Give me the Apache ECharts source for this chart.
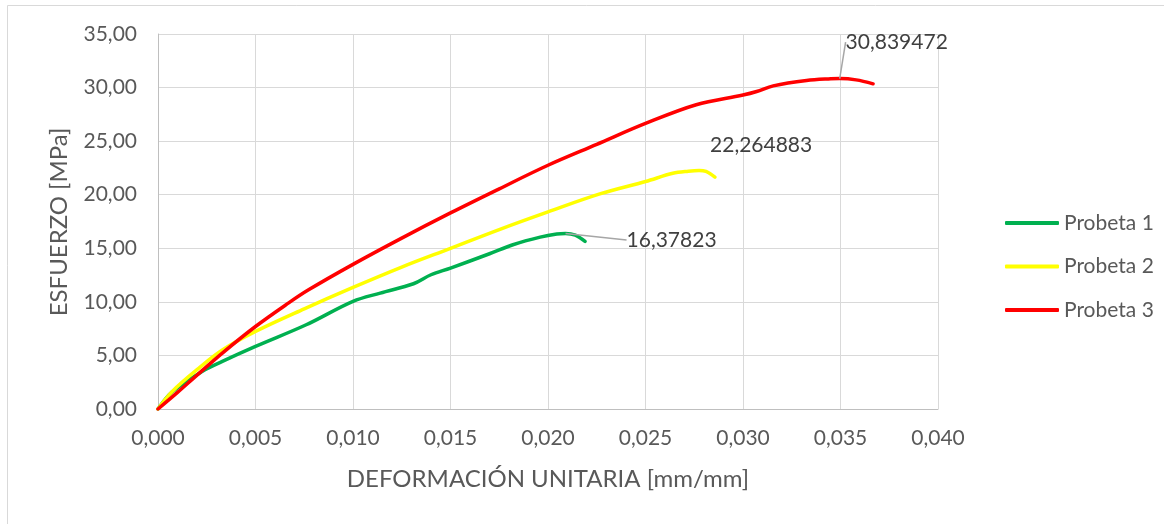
<!DOCTYPE html>
<html>
<head>
<meta charset="utf-8">
<script src="https://cdn.jsdelivr.net/npm/echarts@6/dist/echarts.min.js"></script>
<style>
  html, body { margin: 0; padding: 0; background: #fff; }
  #chart { width: 1164px; height: 524px; }
</style>
</head>
<body>
<div id="chart"></div>
<script>
// ---- Data ----
const seriesNames = ['Probeta 1', 'Probeta 2', 'Probeta 3'];

const p1Strain = [0, 0.00073, 0.00226, 0.0033, 0.0050, 0.0076, 0.0100, 0.0114, 0.0131, 0.0140, 0.0150, 0.0170, 0.0182, 0.0196, 0.02045, 0.0209, 0.0214, 0.0219];
const p1Stress = [0, 1.6, 3.5, 4.44, 5.84, 7.86, 10.05, 10.82, 11.69, 12.53, 13.15, 14.49, 15.33, 16.04, 16.33, 16.37823, 16.22, 15.64];

const p2Strain = [0, 0.00073, 0.0021, 0.0033, 0.0050, 0.0075, 0.0100, 0.0125, 0.0150, 0.0175, 0.0200, 0.0227, 0.0250, 0.0264, 0.0272, 0.02775, 0.0281, 0.02856];
const p2Stress = [0, 1.64, 3.82, 5.5, 7.24, 9.35, 11.35, 13.25, 15.0, 16.75, 18.4, 20.1, 21.23, 22.0, 22.2, 22.264883, 22.17, 21.64];

const p3Strain = [0, 0.0010, 0.0019, 0.0033, 0.0050, 0.0067, 0.0077, 0.0100, 0.0125, 0.0150, 0.0175, 0.0200, 0.0225, 0.0250, 0.0276, 0.0300, 0.0307, 0.03155, 0.03326, 0.0345, 0.03496, 0.0358, 0.03667];
const p3Stress = [0, 1.55, 3.0, 5.22, 7.7, 9.9, 11.1, 13.5, 15.95, 18.3, 20.55, 22.75, 24.7, 26.65, 28.4, 29.3, 29.63, 30.16, 30.66, 30.82, 30.839472, 30.72, 30.35];

const xTicks = { min: 0, max: 0.04, interval: 0.005 };
const yTicks = { min: 0, max: 35, interval: 5 };

const xTitle = 'DEFORMACIÓN UNITARIA [mm/mm]';
const yTitle = 'ESFUERZO [MPa]';

const colors = ['#00B050', '#FFFF00', '#FF0000'];

// ---- Build ----
const FONT = 'Lato';
const comma = (v, d) => v.toFixed(d).replace('.', ',');

function buildData(xs, ys) {
  let peak = 0;
  ys.forEach((v, i) => { if (v > ys[peak]) peak = i; });
  return xs.map((x, i) => i === peak
    ? { value: [x, ys[i]], label: { show: true } }
    : [x, ys[i]]);
}

const labelShift = [
  { dx: 106, dy: 22, line: true },
  { dx: 62, dy: -10, line: false },
  { dx: 57, dy: -21, line: true }
];

const allData = [
  buildData(p1Strain, p1Stress),
  buildData(p2Strain, p2Stress),
  buildData(p3Strain, p3Stress)
];

const chart = echarts.init(document.getElementById('chart'), null, { renderer: 'canvas' });

chart.setOption({
  animation: false,
  backgroundColor: '#ffffff',
  graphic: [{
    type: 'rect',
    shape: { x: 7.5, y: 5.5, width: 1170, height: 530 },
    style: { fill: 'none', stroke: '#d9d9d9', lineWidth: 1 },
    silent: true, z: -10
  }, {
    type: 'text',
    x: 59, y: 222,
    rotation: Math.PI / 2,
    style: {
      text: yTitle, fontFamily: FONT, fontSize: 24, fill: '#595959',
      align: 'center', verticalAlign: 'middle'
    },
    silent: true
  }],
  grid: { left: 158, top: 34, width: 780, height: 375, containLabel: false },
  legend: {
    orient: 'vertical',
    left: 1005,
    top: 211,
    padding: 0,
    icon: 'roundRect',
    itemWidth: 54,
    itemHeight: 4,
    itemGap: 19.5,
    textStyle: { fontFamily: FONT, fontSize: 21, lineHeight: 24, color: '#595959' },
    data: seriesNames
  },
  xAxis: {
    type: 'value',
    min: xTicks.min, max: xTicks.max, interval: xTicks.interval,
    name: xTitle,
    nameLocation: 'middle',
    nameGap: 58,
    nameTextStyle: { fontFamily: FONT, fontSize: 24, color: '#595959' },
    axisLine: { show: true, lineStyle: { color: '#bfbfbf', width: 1 } },
    axisTick: { show: false },
    axisLabel: { fontFamily: FONT, fontSize: 21, color: '#595959', margin: 19, formatter: v => comma(v, 3) },
    splitLine: { show: true, lineStyle: { color: '#d9d9d9', width: 1 } }
  },
  yAxis: {
    type: 'value',
    min: yTicks.min, max: yTicks.max, interval: yTicks.interval,
    axisLine: { show: true, lineStyle: { color: '#bfbfbf', width: 1 } },
    axisTick: { show: false },
    axisLabel: { fontFamily: FONT, fontSize: 21, color: '#595959', margin: 21, formatter: v => comma(v, 2) },
    splitLine: { show: true, lineStyle: { color: '#d9d9d9', width: 1 } }
  },
  series: seriesNames.map((name, i) => ({
    name,
    type: 'line',
    data: allData[i],
    symbol: 'circle',
    symbolSize: 0,
    showSymbol: true,
    showAllSymbol: true,
    smooth: 0.35,
    color: colors[i],
    itemStyle: { color: colors[i] },
    lineStyle: { width: 3.5, color: colors[i], cap: 'round', join: 'round' },
    label: {
      show: false,
      position: 'top',
      distance: 5,
      fontFamily: FONT,
      fontSize: 21,
      color: '#404040',
      formatter: p => String(p.value[1]).replace('.', ',')
    },
    labelLayout: { dx: labelShift[i].dx, dy: labelShift[i].dy, hideOverlap: false },
    labelLine: { show: labelShift[i].line, lineStyle: { color: '#a6a6a6', width: 1.5 } },
    z: 2 + i
  }))
});
</script>
</body>
</html>
